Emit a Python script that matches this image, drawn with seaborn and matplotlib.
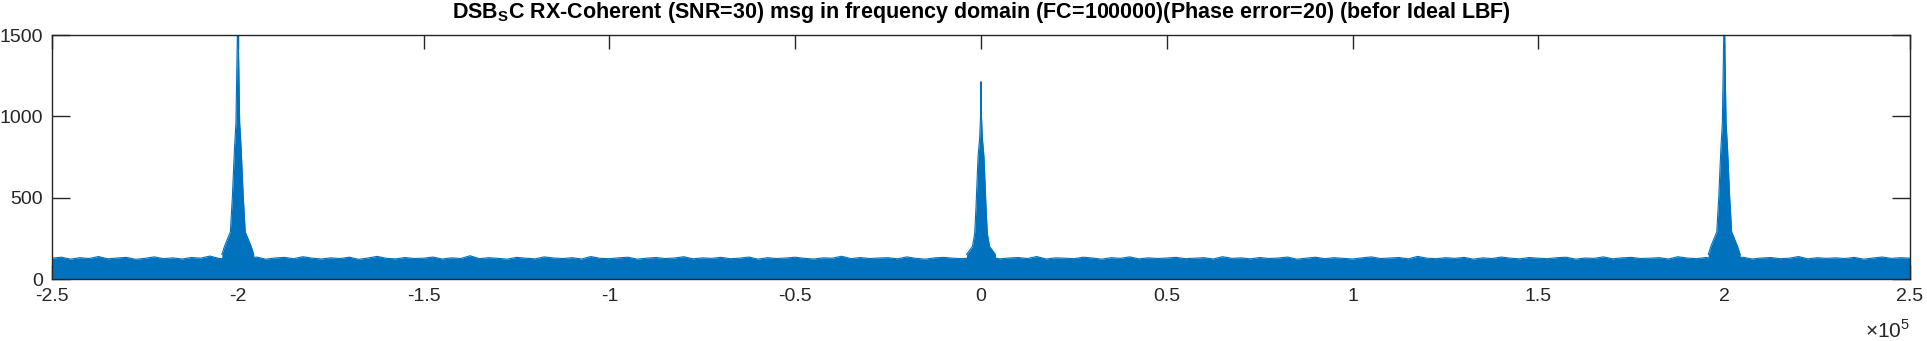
import numpy as np
import pandas as pd
import matplotlib
matplotlib.use("Agg")
import matplotlib.pyplot as plt
import seaborn as sns

# ---- data ----
# noise floor top (magnitude) every 2.5 kHz from -250 kHz to +250 kHz
noise_freq_khz = [-250 + 2.5 * i for i in range(201)]
noise_top = [128, 134, 122, 131, 126, 138, 124, 129, 133, 121, 127, 136, 125, 130, 123, 132, 128, 141, 126, 124,
             131, 127, 135, 122, 129, 133, 125, 137, 128, 123, 130, 126, 134, 121, 129, 139, 127, 124, 132, 126,
             128, 135, 123, 130, 126, 143, 125, 131, 127, 122, 133, 128, 124, 136, 129, 126, 131, 123, 138, 127,
             125, 130, 134, 122, 128, 132, 126, 129, 137, 124, 130, 127, 133, 125, 128, 135, 122, 131, 126, 129,
             134, 127, 123, 130, 128, 140, 125, 132, 126, 129, 131, 124, 136, 127, 122, 130, 133, 128, 125, 131,
             127, 135, 124, 129, 132, 126, 138, 123, 130, 128, 125, 134, 129, 122, 131, 127, 136, 124, 130, 126,
             129, 133, 125, 128, 131, 123, 137, 127, 130, 124, 132, 126, 129, 135, 122, 128, 134, 125, 131, 127,
             123, 130, 136, 126, 129, 132, 124, 139, 128, 125, 131, 127, 133, 122, 130, 126, 135, 128, 124, 132,
             128, 125, 131, 134, 122, 129, 127, 136, 124, 130, 133, 126, 128, 131, 123, 137, 129, 125, 132, 127,
             130, 126, 134, 123, 129, 132, 125, 128, 138, 124, 131, 127, 130, 126, 133, 122, 129, 135, 127, 131,
             128]

# peak shapes: offset from peak centre (kHz) and magnitude
side_offsets_khz = [-4.3, -3.6, -2.0, -1.45, -0.9, -0.5, -0.12, 0.0, 0.12, 0.5, 0.9, 1.45, 2.0, 3.6, 4.3]
side_peak = [150, 200, 290, 510, 800, 960, 1500, 1500, 1500, 960, 800, 510, 290, 200, 150]
side_centres_khz = [-200, 200]

centre_offsets_khz = [-3.9, -2.3, -1.7, -1.35, -0.8, -0.35, -0.12, 0.0, 0.12, 0.35, 0.8, 1.35, 1.7, 2.3, 3.9]
centre_peak = [150, 200, 280, 440, 750, 870, 1000, 1213, 1000, 870, 750, 440, 280, 200, 150]
centre_khz = 0

x_ticks = [-2.5, -2, -1.5, -1, -0.5, 0, 0.5, 1, 1.5, 2, 2.5]
y_ticks = [0, 500, 1000, 1500]
title = "DSB$_{\\mathbf{S}}$C RX-Coherent (SNR=30) msg in frequency domain (FC=100000)(Phase error=20) (befor Ideal LBF)"

# ---- drawing ----
sns.set_theme(style="white")
plt.rcParams["font.family"] = ["Liberation Sans", "DejaVu Sans"]
plt.rcParams["mathtext.fontset"] = "custom"
plt.rcParams["mathtext.rm"] = "Liberation Sans"
plt.rcParams["mathtext.bf"] = "Liberation Sans:bold"
blue = "#0072BD"
dark = "#262626"

fig = plt.figure(figsize=(19.27, 3.41), dpi=100)
ax = fig.add_axes([52 / 1927, 1 - 279 / 341, (1910 - 52) / 1927, (279 - 35) / 341])

noise_df = pd.DataFrame({"f": np.array(noise_freq_khz) / 100.0, "m": noise_top})
ax.fill_between(noise_df["f"], 0, noise_df["m"], color=blue, lw=0)
sns.lineplot(data=noise_df, x="f", y="m", ax=ax, color=blue, lw=0.8, estimator=None)

for c in side_centres_khz:
    pk = pd.DataFrame({"f": (c + np.array(side_offsets_khz)) / 100.0, "m": side_peak})
    ax.fill_between(pk["f"], 0, pk["m"], color=blue, lw=0)
    sns.lineplot(data=pk, x="f", y="m", ax=ax, color=blue, lw=0.8, estimator=None)

pk = pd.DataFrame({"f": (centre_khz + np.array(centre_offsets_khz)) / 100.0, "m": centre_peak})
ax.fill_between(pk["f"], 0, pk["m"], color=blue, lw=0)
sns.lineplot(data=pk, x="f", y="m", ax=ax, color=blue, lw=0.8, estimator=None)

ax.set_xlim(-2.5, 2.5)
ax.set_ylim(0, 1500)
ax.set_xticks(x_ticks)
ax.set_xticklabels([("%g" % t) for t in x_ticks])
ax.set_yticks(y_ticks)
ax.set_xlabel("")
ax.set_ylabel("")

for s in ax.spines.values():
    s.set_color(dark)
    s.set_linewidth(1.0)
    s.set_zorder(5)
ax.tick_params(axis="x", direction="in", length=10, width=1.0, colors=dark,
               top=True, bottom=True, labelsize=14, pad=6.5)
ax.tick_params(axis="y", direction="in", length=13, width=1.0, colors=dark,
               left=True, right=True, labelsize=14, pad=6.5)
for lab in ax.get_xticklabels() + ax.get_yticklabels():
    lab.set_color(dark)

ax.set_title(title, fontsize=15.5, fontweight="bold", color="black", pad=12)
ax.text(1.0, -0.165, r"$\times10^{5}$", transform=ax.transAxes, ha="right", va="top",
        fontsize=15, color=dark)

fig.savefig("out.png", dpi=100, facecolor="white")
